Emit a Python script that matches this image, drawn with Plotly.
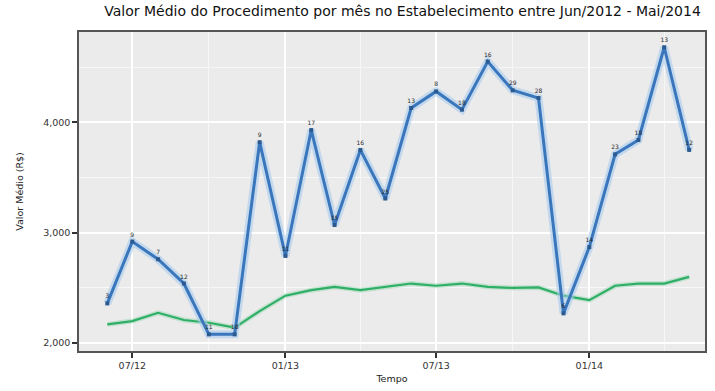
import plotly.graph_objects as go

# Monthly series, Jun/2012 - Mai/2014
months = ["2012-06-01", "2012-07-01", "2012-08-01", "2012-09-01", "2012-10-01", "2012-11-01",
          "2012-12-01", "2013-01-01", "2013-02-01", "2013-03-01", "2013-04-01", "2013-05-01",
          "2013-06-01", "2013-07-01", "2013-08-01", "2013-09-01", "2013-10-01", "2013-11-01",
          "2013-12-01", "2014-01-01", "2014-02-01", "2014-03-01", "2014-04-01", "2014-05-01"]

# Average procedure value at the establishment
valor_estab = [2360, 2920, 2760, 2540, 2080, 2080, 3820, 2790, 3930, 3070, 3750, 3310,
               4130, 4280, 4115, 4550, 4290, 4220, 2270, 2870, 3710, 3840, 4680, 3750]

# Reference average value
valor_ref = [2170, 2200, 2275, 2210, 2185, 2140, 2290, 2430, 2480, 2510, 2480, 2510,
             2540, 2520, 2540, 2510, 2500, 2505, 2430, 2390, 2520, 2540, 2540, 2600]

# Number of procedures per month (point labels)
qtd = ["3", "9", "7", "12", "11", "18", "9", "11", "17", "15", "16", "25",
       "13", "8", "18", "16", "29", "28", "6", "14", "23", "18", "13", "12"]

tick_vals = ["2012-07-01", "2013-01-01", "2013-07-01", "2014-01-01"]
tick_text = ["07/12", "01/13", "07/13", "01/14"]
y_ticks = [2000, 3000, 4000]
y_text = ["2,000", "3,000", "4,000"]

FONT = "DejaVu Sans"

fig = go.Figure()

fig.add_trace(go.Scatter(x=months, y=valor_ref, mode="lines",
                         line=dict(color="#9ad8b4", width=5), opacity=0.5,
                         hoverinfo="skip", showlegend=False))
fig.add_trace(go.Scatter(x=months, y=valor_ref, mode="lines",
                         line=dict(color="#2fae66", width=2.2), showlegend=False))

fig.add_trace(go.Scatter(x=months, y=valor_estab, mode="lines",
                         line=dict(color="#a9cdef", width=8), opacity=0.6,
                         hoverinfo="skip", showlegend=False))
fig.add_trace(go.Scatter(x=months, y=valor_estab, mode="lines+markers+text",
                         line=dict(color="#3a76bb", width=3),
                         marker=dict(size=4, color="#2b5a90", symbol="square"),
                         text=qtd, textposition="top center",
                         textfont=dict(size=6, color="#2a2a2a", family=FONT),
                         showlegend=False))

fig.update_layout(
    width=715, height=391,
    margin=dict(l=79, r=8, t=32, b=34),
    paper_bgcolor="white",
    plot_bgcolor="#EBEBEB",
    font=dict(family=FONT, size=9, color="#222222"),
    title=dict(text="Valor Médio do Procedimento por mês no Estabelecimento entre Jun/2012 - Mai/2014",
               x=0.563, xanchor="center", y=0.985, yanchor="top",
               font=dict(size=14, color="#111111", family=FONT)),
)

fig.update_xaxes(
    type="date",
    range=["2012-04-28", "2014-05-20"],
    tickvals=tick_vals, ticktext=tick_text,
    ticks="outside", ticklen=5, tickwidth=2, tickcolor="#333333",
    tickfont=dict(size=9.5, color="#333333"),
    showgrid=True, gridcolor="white", gridwidth=2,
    minor=dict(tickvals=["2012-10-01", "2013-04-01", "2013-10-01", "2014-04-01"],
               showgrid=True, gridcolor="#F7F7F7", gridwidth=1),
    showline=True, linecolor="#555555", linewidth=1.5, mirror=True,
    zeroline=False,
    title=dict(text="Tempo", font=dict(size=9.5, color="#222222"), standoff=5),
)

fig.update_yaxes(
    range=[1929, 4818],
    tickvals=y_ticks, ticktext=y_text,
    ticks="outside", ticklen=5, tickwidth=2, tickcolor="#333333",
    tickfont=dict(size=9.5, color="#333333"),
    showgrid=True, gridcolor="white", gridwidth=2,
    minor=dict(tickvals=[2500, 3500, 4500], showgrid=True,
               gridcolor="#F7F7F7", gridwidth=1),
    showline=True, linecolor="#555555", linewidth=1.5, mirror=True,
    zeroline=False,
    title=dict(text="Valor Médio (R$)", font=dict(size=9.5, color="#222222"), standoff=18),
)

fig.write_html("out.html")
